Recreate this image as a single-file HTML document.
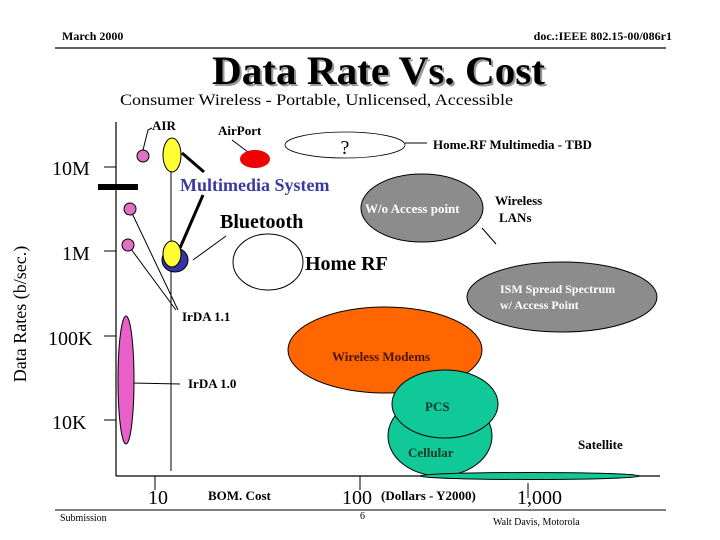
<!DOCTYPE html>
<html><head><meta charset="utf-8"><style>
html,body{margin:0;padding:0;background:#fff;}
svg{display:block;font-family:"Liberation Serif",serif;}
.b{font-weight:bold;}
</style></head><body>
<svg width="720" height="540" viewBox="0 0 720 540">
<text x="62" y="40" font-size="12" class="b">March 2000</text>
<text x="672" y="40" font-size="12" class="b" text-anchor="end">doc.:IEEE 802.15-00/086r1</text>
<line x1="55" y1="48" x2="666" y2="48" stroke="#000" stroke-width="1.2"/>
<text x="214" y="86" font-size="40" class="b" fill="#999" textLength="333" lengthAdjust="spacingAndGlyphs">Data Rate  Vs. Cost</text>
<text x="212" y="84" font-size="40" class="b" textLength="333" lengthAdjust="spacingAndGlyphs">Data Rate  Vs. Cost</text>
<text x="120" y="105" font-size="16" textLength="393" lengthAdjust="spacingAndGlyphs">Consumer Wireless - Portable, Unlicensed, Accessible</text>

<g>
<line x1="116" y1="122" x2="116" y2="476" stroke="#000" stroke-width="1.2"/>
<line x1="116" y1="476" x2="660" y2="476" stroke="#000" stroke-width="1.2"/>
<line x1="104" y1="167" x2="116" y2="167" stroke="#000"/>
<line x1="104" y1="251" x2="116" y2="251" stroke="#000"/>
<line x1="104" y1="336" x2="116" y2="336" stroke="#000"/>
<line x1="104" y1="420" x2="116" y2="420" stroke="#000"/>
<rect x="98" y="184" width="40" height="6" fill="#000"/>
<line x1="155" y1="476" x2="155" y2="490" stroke="#000"/>
<line x1="360" y1="476" x2="360" y2="490" stroke="#000"/>
<line x1="528" y1="483" x2="528" y2="498" stroke="#000"/>
<line x1="171" y1="172" x2="171" y2="471" stroke="#000"/>
</g>
<text x="52" y="175" font-size="20">10M</text>
<text x="62" y="260" font-size="20">1M</text>
<text x="48" y="345" font-size="20">100K</text>
<text x="52" y="429" font-size="20">10K</text>
<text transform="translate(26,314) rotate(-90)" font-size="18" text-anchor="middle">Data Rates  (b/sec.)</text>
<text x="148" y="504" font-size="20">10</text>
<text x="208" y="500" font-size="13" class="b">BOM. Cost</text>
<text x="342" y="504" font-size="20">100</text>
<text x="381" y="500" font-size="13" class="b">(Dollars - Y2000)</text>
<text x="517" y="504" font-size="20">1,000</text>

<line x1="55" y1="510" x2="666" y2="510" stroke="#000" stroke-width="1"/>
<text x="60" y="521" font-size="10">Submission</text>
<text x="360" y="519" font-size="10">6</text>
<text x="493" y="525" font-size="10">Walt Davis, Motorola</text>

<g stroke="#000" fill="none">
<polyline points="143,150 148,130 152,128"/>
<line x1="232" y1="140" x2="248" y2="152"/>
<line x1="182" y1="153" x2="204" y2="172" stroke-width="3"/>
<line x1="180" y1="248" x2="203" y2="195" stroke-width="3"/>
<line x1="193" y1="260" x2="226" y2="236"/>
<line x1="405" y1="143" x2="427" y2="143"/>
<line x1="130" y1="209" x2="178" y2="310"/>
<line x1="128" y1="245" x2="176" y2="310"/>
<line x1="132" y1="383" x2="180" y2="384"/>
<line x1="482" y1="228" x2="496" y2="244"/>
<line x1="556" y1="280" x2="545" y2="300"/>
</g>

<ellipse cx="143" cy="156" rx="6" ry="6" fill="#e070c0" stroke="#000"/>
<ellipse cx="130" cy="209" rx="6" ry="6" fill="#e070c0" stroke="#000"/>
<ellipse cx="128" cy="245" rx="6" ry="6" fill="#e070c0" stroke="#000"/>
<ellipse cx="172" cy="155" rx="9" ry="17" fill="#ffff33" stroke="#000"/>
<text x="152" y="130" font-size="13" class="b">AIR</text>
<text x="218" y="135" font-size="13" class="b">AirPort</text>
<ellipse cx="255" cy="159" rx="15" ry="9" fill="#ee0000"/>
<ellipse cx="345" cy="145" rx="60" ry="13" fill="#fff" stroke="#000" stroke-width="0.8"/>
<text x="345" y="154" font-size="20" text-anchor="middle">?</text>
<text x="433" y="149" font-size="13" class="b">Home.RF Multimedia - TBD</text>
<text x="180" y="191" font-size="18" class="b" fill="#3a3aa0">Multimedia System</text>
<ellipse cx="422" cy="208" rx="61" ry="34" fill="#8c8c8c" stroke="#000"/>
<text x="365" y="213" font-size="13" class="b" fill="#fff">W/o Access point</text>
<text x="495" y="205" font-size="13" class="b">Wireless</text>
<text x="499" y="222" font-size="13" class="b">LANs</text>
<text x="220" y="228" font-size="20" class="b">Bluetooth</text>
<ellipse cx="175" cy="260" rx="13" ry="12" fill="#3333aa" stroke="#000"/>
<ellipse cx="172" cy="254" rx="9" ry="13" fill="#ffff33" stroke="#000"/>
<ellipse cx="268" cy="262" rx="35" ry="28" fill="#fff" stroke="#000"/>
<text x="305" y="270" font-size="20" class="b">Home RF</text>
<ellipse cx="562" cy="297" rx="95" ry="35" fill="#8c8c8c" stroke="#000"/>
<text x="500" y="293" font-size="12" class="b" fill="#fff">ISM  Spread Spectrum</text>
<text x="500" y="309" font-size="12" class="b" fill="#fff">w/ Access Point</text>
<text x="182" y="321" font-size="13" class="b">IrDA 1.1</text>
<ellipse cx="126" cy="380" rx="8" ry="64" fill="#e860c8" stroke="#000"/>
<text x="188" y="388" font-size="13" class="b">IrDA 1.0</text>
<ellipse cx="385" cy="350" rx="97" ry="43" fill="#ff6600" stroke="#000"/>
<text x="332" y="361" font-size="13" class="b" fill="#4a1500">Wireless Modems</text>
<ellipse cx="440" cy="436" rx="52" ry="40" fill="#10c898" stroke="#000"/>
<ellipse cx="445" cy="404" rx="53" ry="34" fill="#10c898" stroke="#000"/>
<text x="425" y="411" font-size="13" class="b" fill="#0a3a2a">PCS</text>
<text x="408" y="457" font-size="13" class="b" fill="#0a3a2a">Cellular</text>
<ellipse cx="530" cy="476" rx="110" ry="3.5" fill="#10c898" stroke="#000"/>
<text x="578" y="449" font-size="13" class="b">Satellite</text>
</svg>
</body></html>
